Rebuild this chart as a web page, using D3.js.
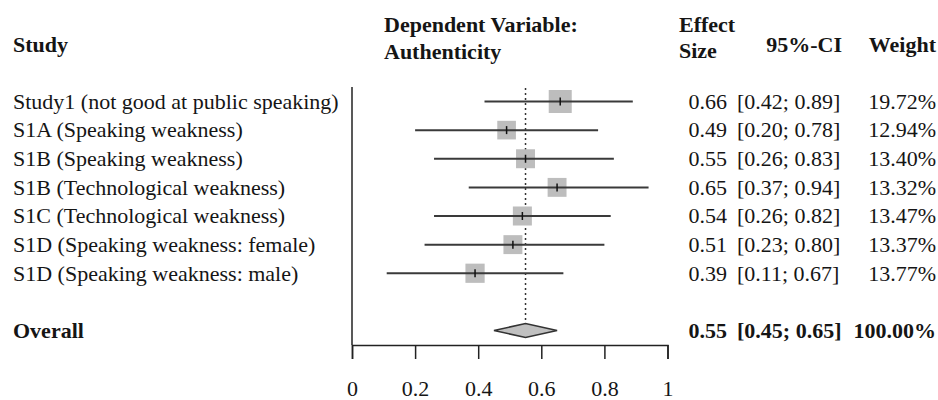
<!DOCTYPE html>
<html>
<head>
<meta charset="utf-8">
<script src="https://cdn.jsdelivr.net/npm/d3@7"></script>
<style>
  body { margin: 0; background: #fff; }
  text { font-family: "Liberation Serif", "Times New Roman", serif; fill: #151515; }
</style>
</head>
<body>
<div id="forest"></div>
<script>
'use strict';

const studies = [
  "Study1 (not good at public speaking)",
  "S1A (Speaking weakness)",
  "S1B (Speaking weakness)",
  "S1B (Technological weakness)",
  "S1C (Technological weakness)",
  "S1D (Speaking weakness: female)",
  "S1D (Speaking weakness: male)"
];
const effects = [0.66, 0.49, 0.55, 0.65, 0.54, 0.51, 0.39];
const ci_low = [0.42, 0.20, 0.26, 0.37, 0.26, 0.23, 0.11];
const ci_high = [0.89, 0.78, 0.83, 0.94, 0.82, 0.80, 0.67];
const weights = [19.72, 12.94, 13.40, 13.32, 13.47, 13.37, 13.77];

const overall_label = "Overall";
const overall_effect = 0.55;
const overall_low = 0.45;
const overall_high = 0.65;
const overall_weight = 100.00;

const x_ticks = [0, 0.2, 0.4, 0.6, 0.8, 1];

const width = 938;
const height = 400;
const font_size = 22;

const svg = d3.select("#forest").append("svg")
  .attr("width", width)
  .attr("height", height);

const x = d3.scaleLinear().domain([0, 1]).range([352, 667.5]);
// rows 0..6 are studies, row 8 is the pooled estimate
const y = d3.scaleLinear().domain([0, 8]).range([101.5, 330.5]);
const side = d3.scaleSqrt().domain([0, d3.max(weights)]).range([0, 23]);

const fmt2 = d3.format(".2f");

/* Header */
const header = svg.append("g").attr("font-weight", "bold").attr("font-size", font_size);
header.append("text").attr("x", 13).attr("y", 52).text("Study");
header.append("text").attr("x", 384).attr("y", 32).text("Dependent Variable:");
header.append("text").attr("x", 384).attr("y", 59).text("Authenticity");
header.append("text").attr("x", 679).attr("y", 32).text("Effect");
header.append("text").attr("x", 679).attr("y", 58).text("Size");
header.append("text").attr("x", 842).attr("y", 52).attr("text-anchor", "end").text("95%-CI");
header.append("text").attr("x", 936).attr("y", 52).attr("text-anchor", "end").text("Weight");

/* Axes */
svg.append("line")
  .attr("x1", x(0)).attr("x2", x(0))
  .attr("y1", 87).attr("y2", 345)
  .attr("stroke", "#222").attr("stroke-width", 1.5);

const xAxis = d3.axisBottom(x)
  .tickValues(x_ticks)
  .tickSize(14)
  .tickPadding(21)
  .tickFormat(d => d3.format("")(d));

svg.append("g")
  .attr("transform", "translate(0,345)")
  .call(xAxis)
  .call(g => g.select(".domain").attr("stroke", "#222").attr("stroke-width", 1.5))
  .call(g => g.selectAll(".tick line").attr("stroke", "#222").attr("stroke-width", 1.5))
  .call(g => g.selectAll(".tick text")
    .attr("font-family", "Liberation Serif, serif")
    .attr("font-size", font_size)
    .attr("fill", "#151515"));

/* Pooled estimate reference line */
svg.append("line")
  .attr("x1", x(overall_effect)).attr("x2", x(overall_effect))
  .attr("y1", 88).attr("y2", y(8) - 7)
  .attr("stroke", "#333").attr("stroke-width", 1.5)
  .attr("stroke-dasharray", "2,3");

/* Study rows */
const rows = svg.append("g").selectAll("g.study")
  .data(studies)
  .enter().append("g")
  .attr("class", "study")
  .attr("transform", (d, i) => `translate(0,${y(i)})`);

rows.append("rect")
  .attr("x", (d, i) => x(effects[i]) - side(weights[i]) / 2)
  .attr("y", (d, i) => -side(weights[i]) / 2)
  .attr("width", (d, i) => side(weights[i]))
  .attr("height", (d, i) => side(weights[i]))
  .attr("fill", "#bdbdbd");

rows.append("line")
  .attr("x1", (d, i) => x(ci_low[i]))
  .attr("x2", (d, i) => x(ci_high[i]))
  .attr("stroke", "#3a3a3a").attr("stroke-width", 2);

rows.append("line")
  .attr("x1", (d, i) => x(effects[i]))
  .attr("x2", (d, i) => x(effects[i]))
  .attr("y1", -4).attr("y2", 4)
  .attr("stroke", "#111").attr("stroke-width", 1.5);

rows.append("text").attr("x", 13).attr("dy", "0.33em")
  .attr("font-size", font_size).text(d => d);
rows.append("text").attr("x", 727).attr("dy", "0.33em").attr("text-anchor", "end")
  .attr("font-size", font_size).text((d, i) => fmt2(effects[i]));
rows.append("text").attr("x", 737).attr("dy", "0.33em")
  .attr("font-size", font_size).text((d, i) => `[${fmt2(ci_low[i])}; ${fmt2(ci_high[i])}]`);
rows.append("text").attr("x", 936).attr("dy", "0.33em").attr("text-anchor", "end")
  .attr("font-size", font_size).text((d, i) => `${fmt2(weights[i])}%`);

/* Overall row */
const yo = y(8);
svg.append("polygon")
  .attr("points", [
    [x(overall_low), yo], [x(overall_effect), yo - 7],
    [x(overall_high), yo], [x(overall_effect), yo + 7]
  ].map(p => p.join(",")).join(" "))
  .attr("fill", "#c0c0c0").attr("stroke", "#333").attr("stroke-width", 1.5);

const ov = svg.append("g").attr("font-weight", "bold").attr("font-size", font_size)
  .attr("transform", `translate(0,${yo})`);
ov.append("text").attr("x", 13).attr("dy", "0.33em").text(overall_label);
ov.append("text").attr("x", 727).attr("dy", "0.33em").attr("text-anchor", "end").text(fmt2(overall_effect));
ov.append("text").attr("x", 737).attr("dy", "0.33em").text(`[${fmt2(overall_low)}; ${fmt2(overall_high)}]`);
ov.append("text").attr("x", 936).attr("dy", "0.33em").attr("text-anchor", "end").text(`${fmt2(overall_weight)}%`);
</script>
</body>
</html>
